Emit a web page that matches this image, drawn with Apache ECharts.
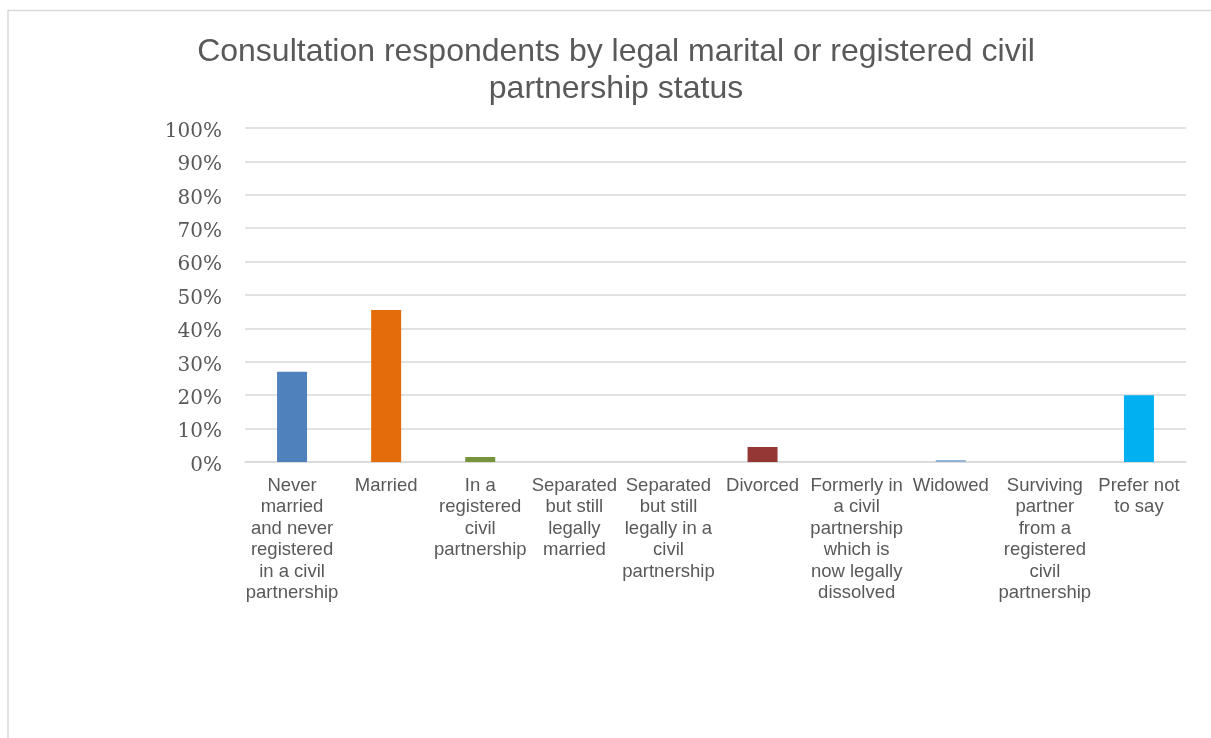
<!DOCTYPE html>
<html>
<head>
<meta charset="utf-8">
<script src="https://cdn.jsdelivr.net/npm/echarts@6/dist/echarts.min.js"></script>
<style>
  html, body { margin: 0; padding: 0; background: #ffffff; }
  #chart { width: 1211px; height: 738px; }
</style>
</head>
<body>
<div id="chart"></div>
<script>
// Marital / civil partnership status categories (axis labels, wrapped)
const categories = [
  'Never\nmarried\nand never\nregistered\nin a civil\npartnership',
  'Married',
  'In a\nregistered\ncivil\npartnership',
  'Separated\nbut still\nlegally\nmarried',
  'Separated\nbut still\nlegally in a\ncivil\npartnership',
  'Divorced',
  'Formerly in\na civil\npartnership\nwhich is\nnow legally\ndissolved',
  'Widowed',
  'Surviving\npartner\nfrom a\nregistered\ncivil\npartnership',
  'Prefer not\nto say'
];

// Share of respondents, percent
const shares = [27.0, 45.5, 1.5, 0.0, 0.0, 4.5, 0.0, 0.6, 0.0, 20.0];

// One colour per category
const barColors = ['#4F81BD', '#E46C0A', '#77933C', '#8064A2', '#4BACC6', '#953735', '#F79646', '#95B3D7', '#B3A2C7', '#00B0F0'];

// Y axis tick values
const yTicks = [0, 10, 20, 30, 40, 50, 60, 70, 80, 90, 100];

const chart = echarts.init(document.getElementById('chart'), null, { renderer: 'canvas' });

chart.setOption({
  animation: false,
  backgroundColor: '#ffffff',
  graphic: [{
    type: 'rect',
    shape: { x: 8, y: 10.5, width: 1260, height: 800 },
    style: { fill: 'none', stroke: '#D9D9D9', lineWidth: 1.5 },
    silent: true
  }],
  title: {
    text: 'Consultation respondents by legal marital or registered civil\npartnership status',
    left: 611,
    textAlign: 'center',
    top: 29,
    textStyle: {
      fontFamily: '"Liberation Sans", Arial, sans-serif',
      fontSize: 32,
      fontWeight: 'normal',
      color: '#595959',
      lineHeight: 37
    }
  },
  grid: { left: 245, right: 25, top: 128, bottom: 276, containLabel: false },
  xAxis: {
    type: 'category',
    data: categories,
    axisLine: { show: true, lineStyle: { color: '#D9D9D9', width: 1.5 } },
    axisTick: { show: false },
    axisLabel: {
      interval: 0,
      margin: 13,
      fontFamily: '"Liberation Sans", Arial, sans-serif',
      fontSize: 18.5,
      color: '#595959',
      lineHeight: 21.5,
      align: 'center'
    }
  },
  yAxis: {
    type: 'value',
    min: yTicks[0],
    max: yTicks[yTicks.length - 1],
    interval: yTicks[1] - yTicks[0],
    axisLine: { show: false },
    axisTick: { show: false },
    splitLine: { lineStyle: { color: '#D9D9D9', width: 1.5 } },
    axisLabel: {
      margin: 23,
      formatter: v => '{p|' + v + '%}',
      rich: {
        p: {
          fontFamily: '"DejaVu Serif", "Liberation Serif", serif',
          fontSize: 20,
          color: '#595959',
          padding: [7, 0, 0, 0]
        }
      }
    }
  },
  series: [{
    type: 'bar',
    data: shares.map((v, i) => ({ value: v, itemStyle: { color: barColors[i] } })),
    barWidth: 30
  }]
});
</script>
</body>
</html>
